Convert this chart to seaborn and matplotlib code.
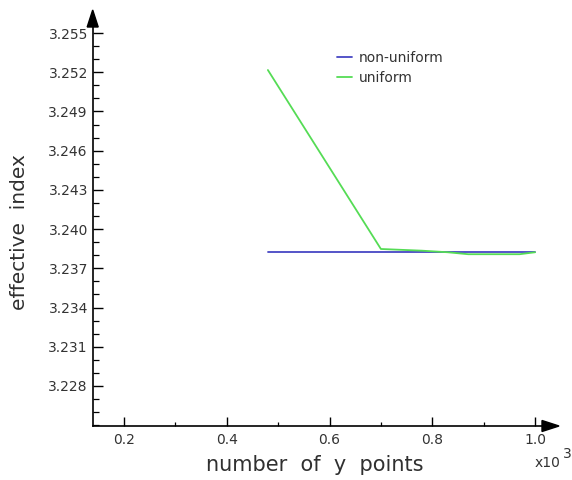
import numpy as np
import pandas as pd
import matplotlib
matplotlib.use("Agg")
import matplotlib.pyplot as plt
import seaborn as sns
from matplotlib.patches import Polygon

# ---- data (x in units of 10^3 points) ----
x_nonuniform = [0.48, 0.70, 0.78, 0.83, 0.87, 0.97, 1.00]
y_nonuniform = [3.23823, 3.23823, 3.23823, 3.23823, 3.23823, 3.23823, 3.23823]
x_uniform = [0.48, 0.70, 0.78, 0.83, 0.87, 0.97, 1.00]
y_uniform = [3.25217, 3.23848, 3.23835, 3.23823, 3.23808, 3.23808, 3.23823]
series_names = ["non-uniform", "uniform"]
y_ticks = [3.228, 3.231, 3.234, 3.237, 3.240, 3.243, 3.246, 3.249, 3.252, 3.255]
x_ticks = [0.2, 0.4, 0.6, 0.8, 1.0]

df = pd.DataFrame({
    "x": x_nonuniform + x_uniform,
    "y": y_nonuniform + y_uniform,
    "series": [series_names[0]] * len(x_nonuniform) + [series_names[1]] * len(x_uniform),
})

sns.set_theme(style="white")
plt.rcParams["font.family"] = ["DejaVu Sans"]

W, H = 572, 480
fig = plt.figure(figsize=(W / 100, H / 100), dpi=100)
L, R, B, T = 92.7, 542, 426, 27
ax = fig.add_axes([L / W, 1 - B / H, (R - L) / W, (B - T) / H])

sns.lineplot(data=df, x="x", y="y", hue="series", hue_order=series_names,
             palette={"non-uniform": "#4646c4", "uniform": "#55dc55"},
             linewidth=1.3, ax=ax, legend=True, estimator=None, sort=False)

ax.set_xlim(0.139, 1.0136)
ax.set_ylim(3.22494, 3.25546)
ax.set_xticks(x_ticks)
ax.set_xticklabels([f"{v:.1f}" for v in x_ticks])
ax.set_yticks(y_ticks)
ax.set_yticklabels([f"{v:.3f}" for v in y_ticks])
ax.set_xticks(np.arange(0.3, 1.0, 0.2), minor=True)
ax.set_yticks(np.arange(3.225, 3.2555, 0.001), minor=True)

ax.tick_params(axis="y", which="major", direction="in", length=7.2, width=1.0,
               color="black", labelsize=10, labelcolor="#333333", pad=3.5, left=True)
ax.tick_params(axis="y", which="minor", direction="in", length=4.2, width=0.9,
               color="black", left=True)
ax.tick_params(axis="x", which="major", direction="in", length=6.5, width=1.0,
               color="black", labelsize=10, labelcolor="#333333", pad=5, bottom=True)
ax.tick_params(axis="x", which="minor", direction="in", length=3.0, width=0.9,
               color="black", bottom=True)

for s in ["top", "right"]:
    ax.spines[s].set_visible(False)
for s in ["left", "bottom"]:
    ax.spines[s].set_color("black")
    ax.spines[s].set_linewidth(1.2)

ax.set_xlabel("number  of  y  points", fontsize=15, color="#303030")
ax.set_ylabel("effective  index", fontsize=14.5, color="#303030")
ax.xaxis.set_label_coords(0.495, -0.098)
ax.yaxis.set_label_coords(-0.162, 0.486)
ax.xaxis.label.set_va("center")
ax.yaxis.label.set_va("center")

leg = ax.legend(loc="upper left", bbox_to_anchor=(337 / W, 1 - 51 / H),
                bbox_transform=fig.transFigure, frameon=False, fontsize=10,
                handlelength=1.1, handletextpad=0.45, labelspacing=0.4,
                borderpad=0, borderaxespad=0)
for t in leg.get_texts():
    t.set_color("#333333")

# axis arrows (figure pixel coords)
def px(x, y):
    return (x / W, 1 - y / H)

fig.patches.append(Polygon([px(L - 5.5, T), px(L + 5.5, T), px(L, T - 17)],
                           closed=True, color="black", transform=fig.transFigure))
fig.patches.append(Polygon([px(R, B - 5.5), px(R, B + 5.5), px(R + 17, B)],
                           closed=True, color="black", transform=fig.transFigure))

fig.text(535 / W, 1 - 463 / H, "x10", fontsize=10, color="#333333", va="center")
fig.text(563 / W, 1 - 454 / H, "3", fontsize=10, color="#333333", va="center")

fig.savefig("out.png", dpi=100)
